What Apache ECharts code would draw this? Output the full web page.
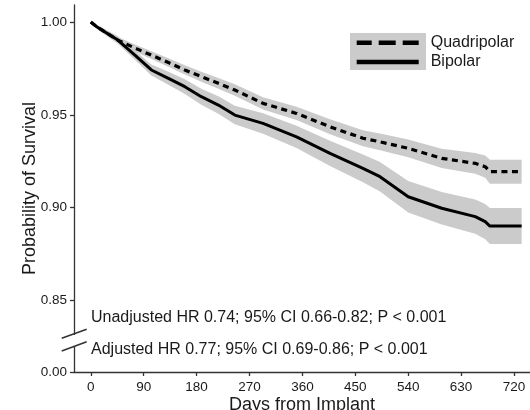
<!DOCTYPE html>
<html>
<head>
<meta charset="utf-8">
<script src="https://cdn.jsdelivr.net/npm/echarts@6/dist/echarts.min.js"></script>
<style>
  html, body { margin: 0; padding: 0; background: #fff; }
  #chart { width: 530px; height: 410px; }
</style>
</head>
<body>
<div id="chart"></div>
<script>
// days since implant where the curves were read
const days = [0, 10, 20, 46, 75, 103, 132, 160, 188, 217, 245, 293, 350, 407, 463, 492, 540, 597, 654, 671, 679, 733];

const quadSurv = [1.000, 0.9975, 0.9955, 0.9903, 0.9860, 0.9822, 0.9782, 0.9742, 0.9706, 0.9670, 0.9634, 0.9562, 0.9508, 0.9436, 0.9374, 0.9355, 0.9320, 0.9266, 0.9239, 0.9221, 0.9194, 0.9194];
const quadLow  = [1.000, 0.9967, 0.9943, 0.9887, 0.9841, 0.9801, 0.9759, 0.9717, 0.9679, 0.9641, 0.9603, 0.9529, 0.9472, 0.9396, 0.9331, 0.9310, 0.9272, 0.9214, 0.9183, 0.9161, 0.9129, 0.9129];
const quadHigh = [1.000, 0.9983, 0.9967, 0.9919, 0.9879, 0.9843, 0.9805, 0.9767, 0.9733, 0.9699, 0.9665, 0.9595, 0.9544, 0.9476, 0.9417, 0.9400, 0.9368, 0.9318, 0.9295, 0.9281, 0.9259, 0.9259];

const bipSurv = [1.000, 0.9975, 0.9955, 0.9903, 0.9822, 0.9742, 0.9697, 0.9652, 0.9598, 0.9553, 0.9499, 0.9454, 0.9382, 0.9293, 0.9212, 0.9167, 0.9059, 0.8997, 0.8952, 0.8925, 0.8901, 0.8901];
const bipLow  = [1.000, 0.9965, 0.9941, 0.9883, 0.9797, 0.9712, 0.9662, 0.9612, 0.9555, 0.9506, 0.9449, 0.9399, 0.9322, 0.9225, 0.9137, 0.9088, 0.8974, 0.8909, 0.8860, 0.8830, 0.8804, 0.8804];
const bipHigh = [1.000, 0.9985, 0.9969, 0.9923, 0.9847, 0.9772, 0.9732, 0.9692, 0.9641, 0.9600, 0.9549, 0.9509, 0.9442, 0.9361, 0.9287, 0.9246, 0.9144, 0.9085, 0.9044, 0.9020, 0.8998, 0.8998];

const xTicks = [0, 90, 180, 270, 360, 450, 540, 630, 720];
const yTicks = [0.8115, 0.85, 0.90, 0.95, 1.00];
const yTickText = ['0.00', '0.85', '0.90', '0.95', '1.00'];

const notes = [
  'Unadjusted HR 0.74; 95% CI 0.66-0.82; P < 0.001',
  'Adjusted HR 0.77; 95% CI 0.69-0.86; P < 0.001'
];

const font = '"Liberation Sans", Arial, sans-serif';
const ink = '#1a1a1a';
const axisColor = '#333';
const bandColor = '#cbcbcb';

const pairs = (ys) => days.map((d, i) => [d, ys[i]]);

// confidence band drawn as one polygon: upper edge forward, lower edge back
const band = (lo, hi) => ({
  type: 'custom',
  silent: true,
  z: 1,
  data: days.map((d, i) => [d, lo[i], hi[i]]),
  encode: { x: 0, y: [1, 2] },
  renderItem: (params, api) => {
    if (params.dataIndex !== 0) return;
    const upper = days.map((d, i) => api.coord([d, hi[i]]));
    const lower = days.map((d, i) => api.coord([d, lo[i]])).reverse();
    return {
      type: 'polygon',
      shape: { points: upper.concat(lower) },
      style: { fill: bandColor }
    };
  }
});

const chart = echarts.init(document.getElementById('chart'));

const option = {
  animation: false,
  textStyle: { fontFamily: font },
  grid: { left: 74, right: 0, top: 5, bottom: 38, containLabel: false, outerBoundsMode: 'none' },
  legend: {
    orient: 'vertical',
    left: 356.7,
    top: 34.7,
    padding: 0,
    itemGap: 3.3,
    itemWidth: 62,
    itemHeight: 4.5,
    selectedMode: false,
    z: 5,
    textStyle: { fontSize: 16, lineHeight: 16, color: ink, fontFamily: font, padding: [0, 0, 0, 7] },
    data: [
      { name: 'Quadripolar', icon: 'path://M0,0h15v4.5h-15zM22,0h17v4.5h-17zM46,0h16v4.5h-16z', itemStyle: { color: '#000', borderWidth: 0 } },
      { name: 'Bipolar', icon: 'rect', itemStyle: { color: '#000', borderWidth: 0 } }
    ]
  },
  xAxis: {
    type: 'value',
    min: -28.6,
    max: 747.2,
    name: 'Days from Implant',
    nameLocation: 'middle',
    nameGap: 24,
    nameMoveOverlap: false,
    nameTextStyle: { fontSize: 18, color: ink, fontFamily: font },
    axisLine: { show: true, onZero: false, lineStyle: { color: axisColor, width: 1.3 } },
    axisTick: { show: true, customValues: xTicks, length: 4, lineStyle: { color: axisColor, width: 1.3 } },
    axisLabel: { customValues: xTicks, fontSize: 13.5, color: ink, margin: 8, fontFamily: font },
    splitLine: { show: false }
  },
  yAxis: {
    type: 'value',
    min: 0.8115,
    max: 1.0092,
    name: 'Probability of Survival',
    nameLocation: 'middle',
    nameGap: 35,
    nameMoveOverlap: false,
    nameTextStyle: { fontSize: 18, color: ink, fontFamily: font },
    axisLine: { show: true, onZero: false, lineStyle: { color: axisColor, width: 1.3 } },
    axisTick: { show: true, customValues: yTicks, length: 4, lineStyle: { color: axisColor, width: 1.3 } },
    axisLabel: {
      customValues: yTicks, fontSize: 13.5, color: ink, margin: 7, fontFamily: font,
      formatter: (v) => {
        const i = yTicks.findIndex(t => Math.abs(t - v) < 1e-6);
        return i >= 0 ? yTickText[i] : v.toFixed(2);
      }
    },
    splitLine: { show: false }
  },
  graphic: [
    // legend key background
    { type: 'rect', shape: { x: 350, y: 33, width: 76, height: 37 }, style: { fill: bandColor }, z: 0 },
    // axis break
    { type: 'rect', shape: { x: 71, y: 335, width: 6, height: 11 }, style: { fill: '#fff' }, z: 100 },
    { type: 'line', shape: { x1: 61.7, y1: 338.3, x2: 86.7, y2: 329.3 }, style: { stroke: axisColor, lineWidth: 1.5 }, z: 101 },
    { type: 'line', shape: { x1: 61.7, y1: 351, x2: 86.7, y2: 341.7 }, style: { stroke: axisColor, lineWidth: 1.5 }, z: 101 },
    // hazard ratio notes
    { type: 'text', x: 91, y: 318, style: { text: notes[0], fontSize: 16, fontFamily: font, fill: ink, verticalAlign: 'middle' }, z: 50 },
    { type: 'text', x: 91, y: 350, style: { text: notes[1], fontSize: 16, fontFamily: font, fill: ink, verticalAlign: 'middle' }, z: 50 }
  ],
  series: [
    band(quadLow, quadHigh),
    band(bipLow, bipHigh),
    {
      type: 'line', name: 'Quadripolar', data: pairs(quadSurv), symbol: 'none', z: 3,
      itemStyle: { color: '#000' },
      lineStyle: { color: '#000', width: 3.2, type: [6, 4.5] }
    },
    {
      type: 'line', name: 'Bipolar', data: pairs(bipSurv), symbol: 'none', z: 3,
      itemStyle: { color: '#000' },
      lineStyle: { color: '#000', width: 3 }
    }
  ]
};

chart.setOption(option);
</script>
</body>
</html>
